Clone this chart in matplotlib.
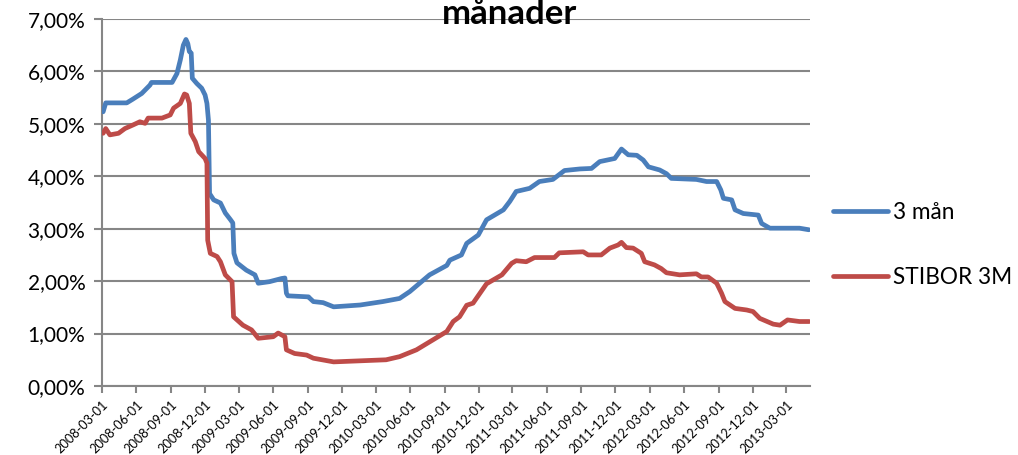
import matplotlib
matplotlib.use("Agg")
import matplotlib.pyplot as plt
import matplotlib.dates as mdates
import matplotlib.ticker as mticker
import pandas as pd

# ---- data ----
blue_dates = ["2008-03-04", "2008-03-11", "2008-05-06", "2008-05-22", "2008-06-15", "2008-07-07",
              "2008-07-11", "2008-09-04", "2008-09-17", "2008-09-26", "2008-10-04", "2008-10-11",
              "2008-10-16", "2008-10-20", "2008-10-25", "2008-10-28", "2008-11-09", "2008-11-22",
              "2008-12-01", "2008-12-06", "2008-12-10", "2008-12-13", "2008-12-24", "2009-01-11",
              "2009-01-24", "2009-02-07", "2009-02-13", "2009-02-16", "2009-02-24", "2009-03-21",
              "2009-04-13", "2009-04-22", "2009-05-22", "2009-06-23", "2009-07-02", "2009-07-06",
              "2009-07-10", "2009-09-03", "2009-09-07", "2009-09-16", "2009-10-12", "2009-11-09",
              "2010-01-19", "2010-03-20", "2010-05-04", "2010-05-31", "2010-07-23", "2010-09-07",
              "2010-09-15", "2010-10-16", "2010-10-30", "2010-11-30", "2010-12-22", "2011-02-05",
              "2011-02-22", "2011-03-11", "2011-04-16", "2011-05-12", "2011-06-17", "2011-07-18",
              "2011-08-28", "2011-09-28", "2011-10-20", "2011-11-29", "2011-12-17", "2012-01-04",
              "2012-01-27", "2012-02-13", "2012-02-27", "2012-03-28", "2012-04-15", "2012-04-28",
              "2012-07-04", "2012-07-31", "2012-08-27", "2012-09-07", "2012-09-14", "2012-10-06",
              "2012-10-15", "2012-11-06", "2012-12-16", "2012-12-25", "2013-01-16", "2013-04-05",
              "2013-04-30"]
blue_values = [5.23, 5.40, 5.40, 5.47, 5.58, 5.74,
               5.79, 5.79, 5.96, 6.22, 6.50, 6.61,
               6.53, 6.38, 6.35, 5.87, 5.77, 5.68,
               5.55, 5.39, 5.07, 3.67, 3.55, 3.49,
               3.30, 3.17, 3.11, 2.53, 2.35, 2.21,
               2.12, 1.96, 1.99, 2.05, 2.06, 1.77,
               1.72, 1.70, 1.67, 1.61, 1.59, 1.51,
               1.545, 1.61, 1.67, 1.80, 2.12, 2.30,
               2.40, 2.50, 2.72, 2.88, 3.17, 3.36,
               3.52, 3.71, 3.77, 3.90, 3.94, 4.11,
               4.14, 4.15, 4.28, 4.34, 4.52, 4.41,
               4.40, 4.31, 4.18, 4.12, 4.05, 3.96,
               3.94, 3.90, 3.90, 3.74, 3.58, 3.55,
               3.36, 3.29, 3.26, 3.10, 3.01, 3.01,
               2.98]

red_dates = ["2008-03-04", "2008-03-11", "2008-03-22", "2008-04-14", "2008-05-01", "2008-05-23",
             "2008-06-10", "2008-06-24", "2008-07-02", "2008-08-08", "2008-08-30", "2008-09-08",
             "2008-09-26", "2008-10-07", "2008-10-13", "2008-10-20", "2008-10-24", "2008-11-05",
             "2008-11-14", "2008-12-01", "2008-12-06", "2008-12-08", "2008-12-15", "2009-01-02",
             "2009-01-11", "2009-01-24", "2009-02-11", "2009-02-15", "2009-03-12", "2009-04-04",
             "2009-04-22", "2009-06-01", "2009-06-14", "2009-07-02", "2009-07-06", "2009-07-28",
             "2009-08-29", "2009-09-16", "2009-11-09", "2010-03-29", "2010-05-04", "2010-06-18",
             "2010-08-01", "2010-09-07", "2010-09-24", "2010-10-11", "2010-10-30", "2010-11-16",
             "2010-12-22", "2011-02-01", "2011-02-27", "2011-03-11", "2011-04-07", "2011-04-29",
             "2011-06-21", "2011-07-04", "2011-09-06", "2011-09-19", "2011-10-24", "2011-11-16",
             "2011-12-08", "2011-12-17", "2011-12-30", "2012-01-17", "2012-02-08", "2012-02-17",
             "2012-03-14", "2012-04-01", "2012-04-15", "2012-05-20", "2012-07-04", "2012-07-17",
             "2012-08-04", "2012-08-27", "2012-09-09", "2012-09-18", "2012-10-15", "2012-11-15",
             "2012-12-02", "2012-12-20", "2013-01-25", "2013-02-12", "2013-03-04", "2013-04-05",
             "2013-05-01"]
red_values = [4.82, 4.91, 4.79, 4.82, 4.91, 4.98,
              5.04, 5.01, 5.11, 5.11, 5.17, 5.30,
              5.39, 5.57, 5.55, 5.39, 4.82, 4.66,
              4.47, 4.34, 4.25, 2.78, 2.53, 2.47,
              2.37, 2.12, 1.99, 1.32, 1.16, 1.07,
              0.91, 0.94, 1.01, 0.94, 0.69, 0.62,
              0.59, 0.53, 0.46, 0.50, 0.56, 0.69,
              0.88, 1.04, 1.23, 1.32, 1.54, 1.58,
              1.95, 2.12, 2.34, 2.39, 2.37, 2.45,
              2.45, 2.54, 2.56, 2.50, 2.50, 2.63,
              2.69, 2.74, 2.64, 2.63, 2.53, 2.37,
              2.31, 2.24, 2.16, 2.12, 2.14, 2.08,
              2.08, 1.96, 1.77, 1.61, 1.48, 1.45,
              1.42, 1.29, 1.18, 1.16, 1.26, 1.23,
              1.23]

series_names = ["3 mån", "STIBOR 3M"]
title_text = "månader"
tick_dates = pd.date_range("2008-03-01", "2013-03-01", freq="3MS")
x_start, x_end = "2008-03-01", "2013-05-03"

# ---- styling ----
plt.rcParams['font.family'] = ['Lato', 'DejaVu Sans']
BLUE = "#4A7EBB"
RED = "#BE4B48"
GRID = "#868686"

fig = plt.figure(figsize=(10.18, 4.55), dpi=100)
ax = fig.add_axes([102 / 1018, 1 - 386 / 455, (810 - 102) / 1018, (386 - 19) / 455])

lw = 3.4
l1, = ax.plot(pd.to_datetime(blue_dates), blue_values, color=BLUE, lw=lw,
              solid_capstyle='round', solid_joinstyle='round', label=series_names[0], zorder=3)
l2, = ax.plot(pd.to_datetime(red_dates), red_values, color=RED, lw=lw,
              solid_capstyle='round', solid_joinstyle='round', label=series_names[1], zorder=3)

ax.set_ylim(0, 7)
ax.set_yticks(range(0, 8))
ax.yaxis.set_major_formatter(mticker.FuncFormatter(lambda v, p: f"{v:.2f}%".replace(".", ",")))
ax.set_xlim(pd.Timestamp(x_start), pd.Timestamp(x_end))
ax.set_xticks(tick_dates)
ax.set_xticklabels([d.strftime("%Y-%m-%d") for d in tick_dates], rotation=45,
                   ha='right', va='top', rotation_mode='anchor', fontsize=9.2)

ax.grid(axis='y', color=GRID, lw=1.5, zorder=0)
for s in ['top', 'right']:
    ax.spines[s].set_visible(False)
for s in ['left', 'bottom']:
    ax.spines[s].set_color(GRID)
    ax.spines[s].set_linewidth(1.5)
ax.tick_params(axis='y', length=6, width=1.5, color=GRID, labelsize=15, pad=6)
ax.tick_params(axis='x', length=5, width=1.5, color=GRID, pad=4)

fig.text(0.5, 1 - 24 / 455, title_text, ha='center', va='baseline',
         fontsize=25, fontweight='bold')

fig.legend(handles=[l1, l2], labels=series_names, loc='center left',
           bbox_to_anchor=(833 / 1018, 1 - 245 / 455), frameon=False,
           borderpad=0, borderaxespad=0,
           fontsize=16.3, handlelength=2.45, handletextpad=0.22, labelspacing=1.95)

fig.savefig("out.png", dpi=100)
